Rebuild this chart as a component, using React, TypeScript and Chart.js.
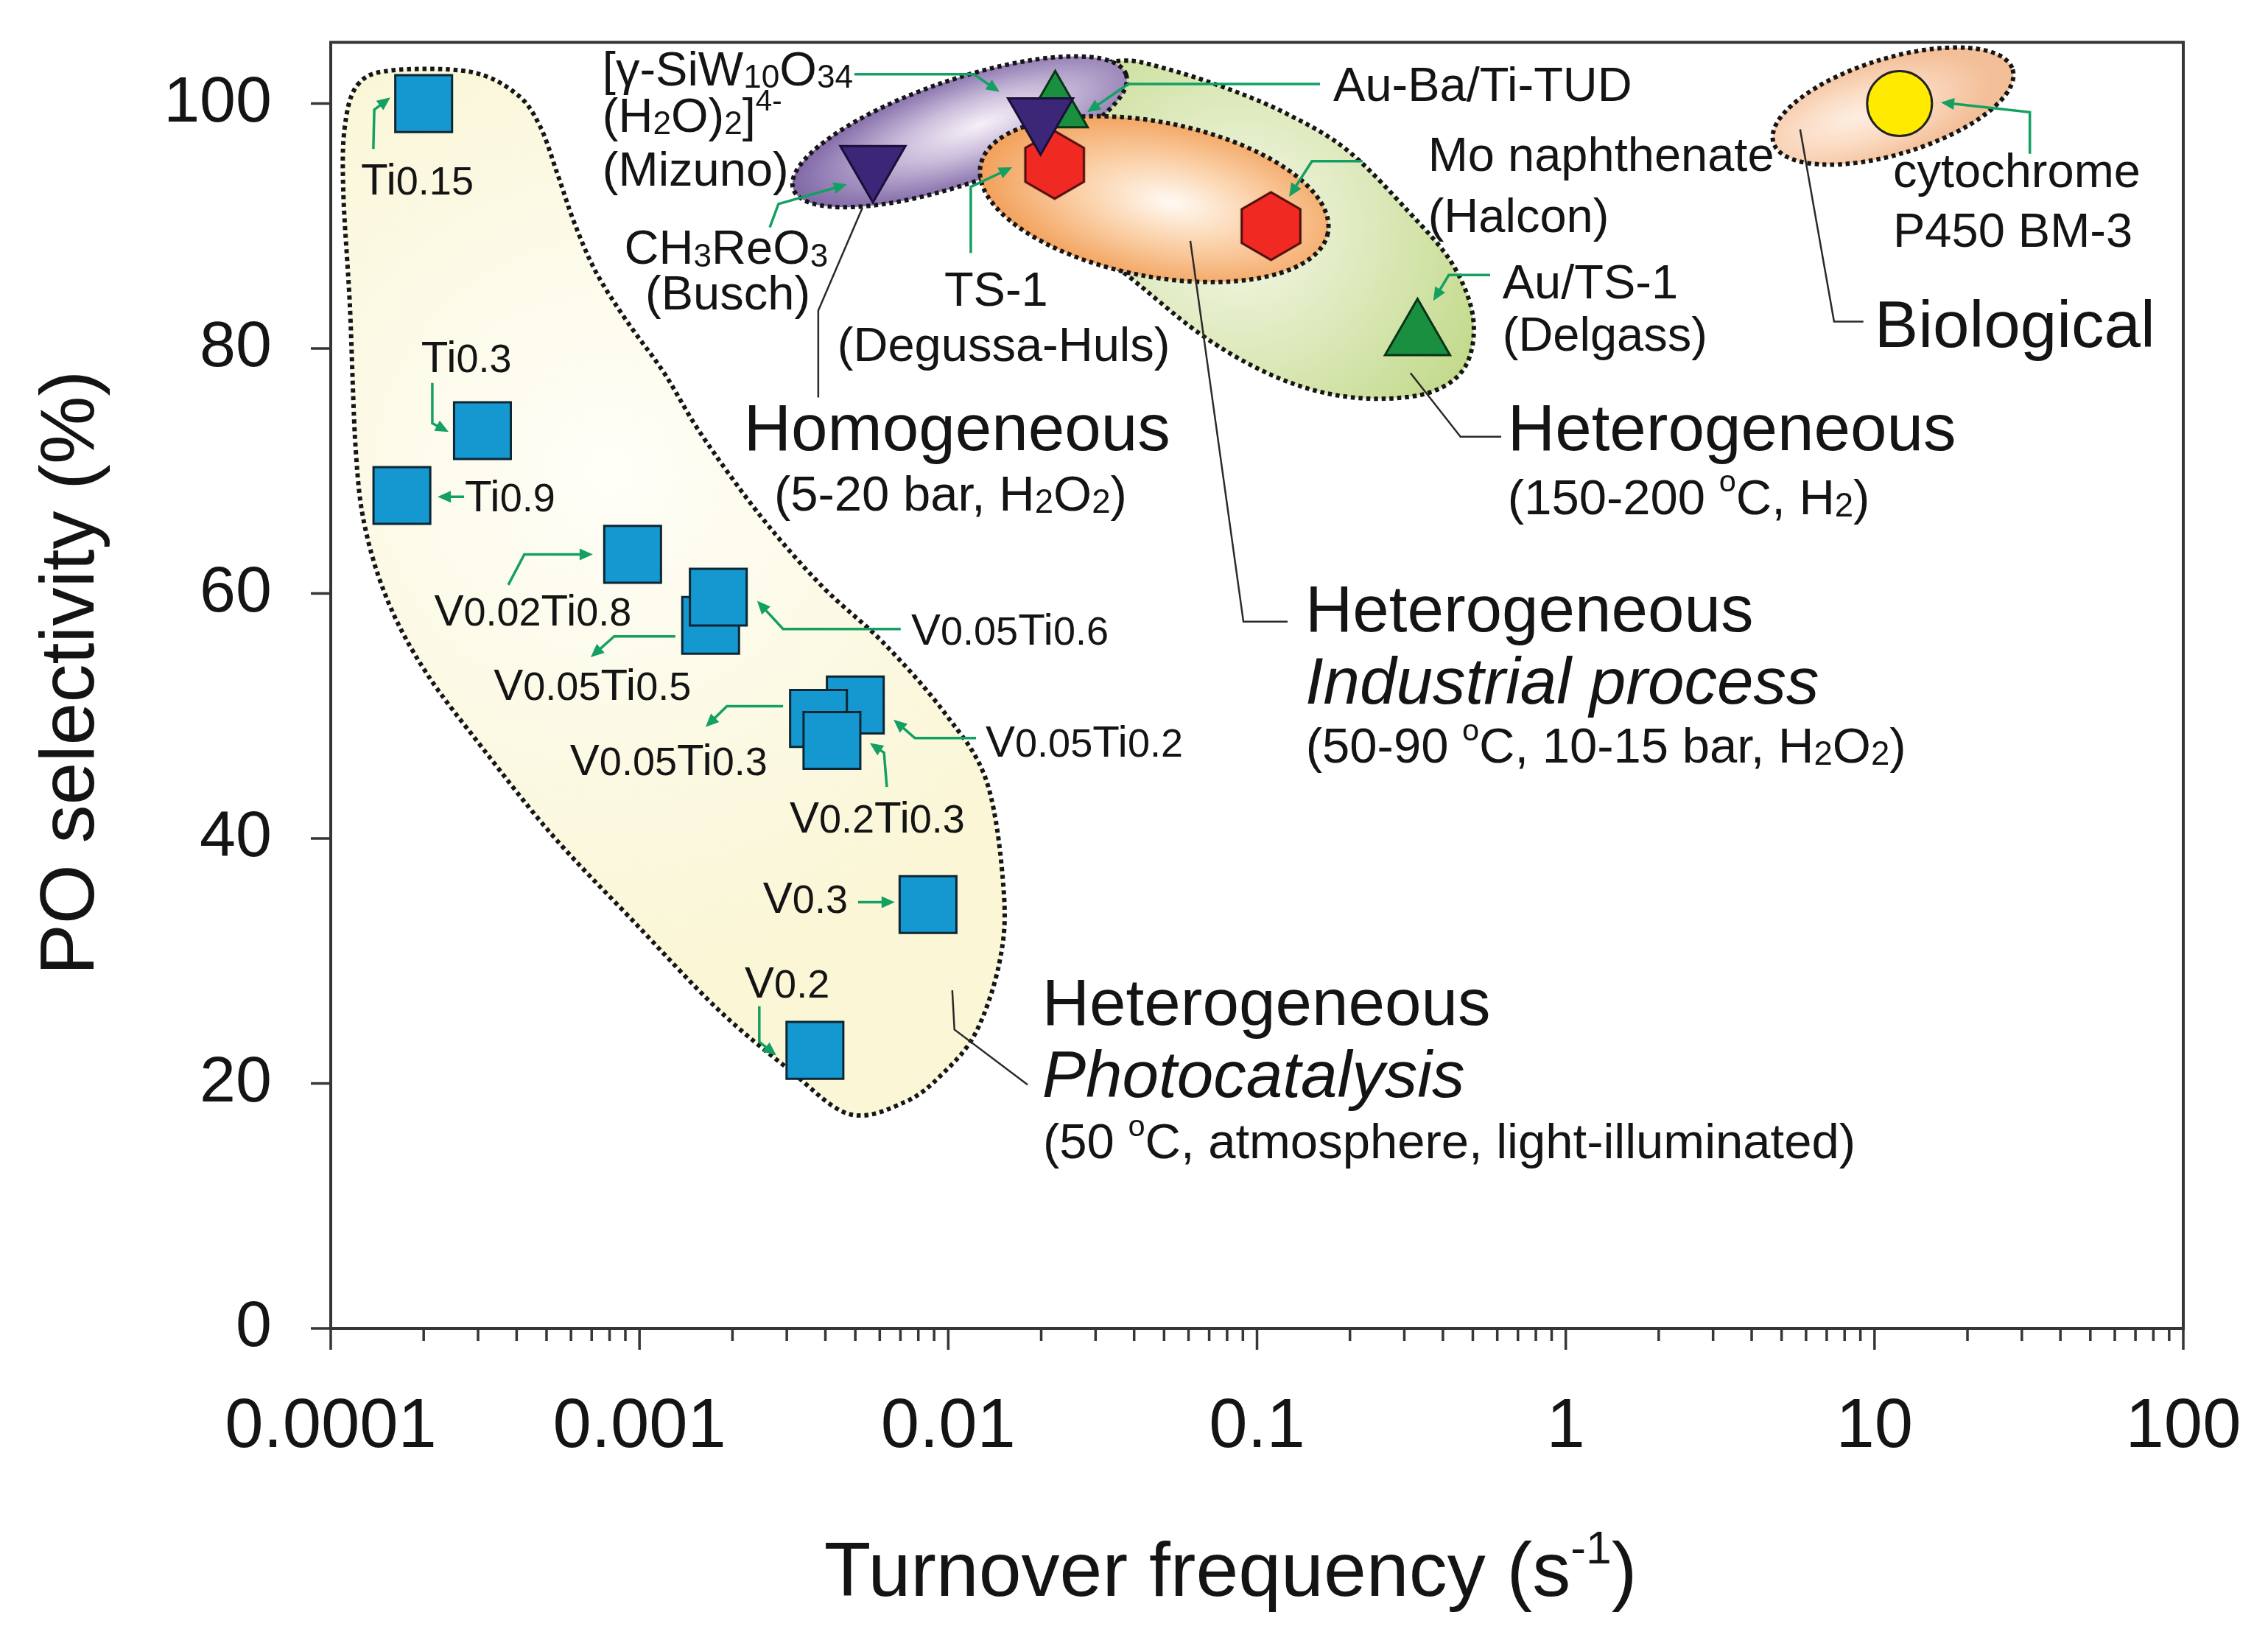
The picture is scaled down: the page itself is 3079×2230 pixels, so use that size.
import React, { useEffect, useRef } from 'react';
import { Chart, registerables } from 'chart.js';

Chart.register(...registerables);

const FONT = "'Liberation Sans', Arial, Helvetica, sans-serif";

// ---------------- data ----------------
// Heterogeneous photocatalysis (VxTiy samples)
const PHOTO_NAMES = ['Ti0.15', 'Ti0.3', 'Ti0.9', 'V0.02Ti0.8', 'V0.05Ti0.5', 'V0.05Ti0.6', 'V0.05Ti0.2', 'V0.05Ti0.3', 'V0.2Ti0.3', 'V0.3', 'V0.2'];
const PHOTO_TOF = [2.0e-4, 3.1e-4, 1.7e-4, 9.5e-4, 1.7e-3, 1.8e-3, 5.0e-3, 3.8e-3, 4.2e-3, 8.6e-3, 3.7e-3];
const PHOTO_SEL = [100, 73.3, 68.0, 63.2, 57.4, 59.7, 50.9, 49.8, 48.0, 34.6, 22.7];

// Homogeneous (5-20 bar, H2O2)
const HOMO_NAMES = ['CH3ReO3 (Busch)', '[γ-SiW10O34(H2O)2]4- (Mizuno)'];
const HOMO_TOF = [5.7e-3, 0.0199];
const HOMO_SEL = [95.0, 98.9];

// Heterogeneous industrial process
const IND_NAMES = ['TS-1 (Degussa-Huls)', 'Mo naphthenate (Halcon)'];
const IND_TOF = [0.0221, 0.111];
const IND_SEL = [95.0, 90.0];

// Heterogeneous gas phase (150-200 °C, H2)
const GAS_NAMES = ['Au-Ba/Ti-TUD', 'Au/TS-1 (Delgass)'];
const GAS_TOF = [0.0222, 0.331];
const GAS_SEL = [99.6, 81.0];

// Biological
const BIO_NAMES = ['cytochrome P450 BM-3'];
const BIO_TOF = [12.05];
const BIO_SEL = [100.0];

// axes
const X_MIN = 1e-4;
const X_MAX = 100;
const Y_MIN = 0;
const Y_MAX = 105;
const X_TICKS = [1e-4, 1e-3, 1e-2, 1e-1, 1, 10, 100];
const X_TICK_LABELS = ['0.0001', '0.001', '0.01', '0.1', '1', '10', '100'];
const X_MINOR_MANTISSAS = [1, 2, 3, 4, 5, 6, 7, 8, 9];
const Y_TICKS = [0, 20, 40, 60, 80, 100];

// ---------------- annotations (data space: [log10(TOF), selectivity]) ----------------
type Seg = { t: string; s?: number; dy?: number };
const sub = (t: string): Seg => ({ t, s: 0.68, dy: 0.05 });
const sup = (t: string): Seg => ({ t, s: 0.62, dy: -0.45 });
const nrm = (t: string): Seg => ({ t });

const PHOTO_LABEL_AT: [number, number][] = [
  [-3.902, 92.6], [-3.707, 78.1], [-3.566, 66.7], [-3.665, 57.4], [-3.472, 51.3], [-2.120, 55.8],
  [-1.879, 46.7], [-3.225, 45.2], [-2.514, 40.5], [-2.600, 33.9], [-2.659, 27.0],
];
const PHOTO_ARROWS: [number, number][][] = [
  [[-3.862, 96.3], [-3.859, 99.5], [-3.807, 100.5]],
  [[-3.671, 77.2], [-3.671, 73.9], [-3.618, 73.2]],
  [[-3.568, 67.9], [-3.654, 67.9]],
  [[-3.425, 60.7], [-3.373, 63.2], [-3.151, 63.2]],
  [[-2.884, 56.5], [-3.082, 56.5], [-3.158, 54.8]],
  [[-2.154, 57.1], [-2.535, 57.1], [-2.619, 59.4]],
  [[-1.910, 48.2], [-2.108, 48.2], [-2.177, 49.7]],
  [[-2.535, 50.8], [-2.717, 50.8], [-2.786, 49.1]],
  [[-2.199, 44.2], [-2.208, 47.0], [-2.254, 47.8]],
  [[-2.292, 34.8], [-2.173, 34.8]],
  [[-2.612, 26.3], [-2.612, 23.4], [-2.557, 22.3]],
];
const OTHER_ARROWS: [number, number][][] = [
  [[-2.304, 102.4], [-1.917, 102.4], [-1.834, 100.95]],
  [[-0.796, 101.6], [-1.417, 101.6], [-1.550, 99.3]],
  [[-2.578, 89.9], [-2.550, 91.8], [-2.328, 93.4]],
  [[-1.927, 87.8], [-1.927, 93.2], [-1.793, 94.8]],
  [[-0.658, 95.3], [-0.822, 95.3], [-0.896, 92.4]],
  [[-0.245, 86.0], [-0.379, 86.0], [-0.429, 83.9]],
  [[1.503, 95.9], [1.503, 99.3], [1.215, 100.1]],
];
const LEADERS: [number, number][][] = [
  [[-2.278, 91.5], [-2.421, 83.1], [-2.421, 76.0]],
  [[-1.216, 88.8], [-1.044, 57.7], [-0.901, 57.7]],
  [[-0.503, 78.0], [-0.341, 72.8], [-0.209, 72.8]],
  [[0.759, 97.9], [0.869, 82.2], [0.964, 82.2]],
  [[-1.987, 27.6], [-1.980, 24.4], [-1.743, 19.9]],
];
type TextItem = { at: [number, number]; segs: Seg[]; kind: 'm' | 'c' | 'h'; align?: 'left' | 'center'; italic?: boolean };
const TEXTS: TextItem[] = [
  { at: [-3.120, 101.5], kind: 'm', segs: [nrm('[γ-SiW'), sub('10'), nrm('O'), sub('34')] },
  { at: [-3.120, 97.7], kind: 'm', segs: [nrm('(H'), sub('2'), nrm('O)'), sub('2'), nrm(']'), sup('4-')] },
  { at: [-3.120, 93.3], kind: 'm', segs: [nrm('(Mizuno)')] },
  { at: [-2.719, 86.9], kind: 'm', align: 'center', segs: [nrm('CH'), sub('3'), nrm('ReO'), sub('3')] },
  { at: [-2.714, 83.2], kind: 'm', align: 'center', segs: [nrm('(Busch)')] },
  { at: [-2.013, 83.5], kind: 'm', segs: [nrm('TS-1')] },
  { at: [-2.359, 79.0], kind: 'm', segs: [nrm('(Degussa-Huls)')] },
  { at: [-0.753, 100.2], kind: 'm', segs: [nrm('Au-Ba/Ti-TUD')] },
  { at: [-0.446, 94.5], kind: 'm', segs: [nrm('Mo naphthenate')] },
  { at: [-0.446, 89.5], kind: 'm', segs: [nrm('(Halcon)')] },
  { at: [-0.205, 84.1], kind: 'm', segs: [nrm('Au/TS-1')] },
  { at: [-0.205, 79.8], kind: 'm', segs: [nrm('(Delgass)')] },
  { at: [1.060, 93.2], kind: 'm', segs: [nrm('cytochrome')] },
  { at: [1.060, 88.3], kind: 'm', segs: [nrm('P450 BM-3')] },
  { at: [-2.564, 66.8], kind: 'c', segs: [nrm('(5-20 bar, H'), sub('2'), nrm('O'), sub('2'), nrm(')')] },
  { at: [-0.188, 66.5], kind: 'c', segs: [nrm('(150-200 '), sup('o'), nrm('C, H'), sub('2'), nrm(')')] },
  { at: [-0.842, 46.2], kind: 'c', segs: [nrm('(50-90 '), sup('o'), nrm('C, 10-15 bar, H'), sub('2'), nrm('O'), sub('2'), nrm(')')] },
  { at: [-1.693, 13.9], kind: 'c', segs: [nrm('(50 '), sup('o'), nrm('C, atmosphere, light-illuminated)')] },
  { at: [-2.662, 71.7], kind: 'h', segs: [nrm('Homogeneous')] },
  { at: [-0.188, 71.7], kind: 'h', segs: [nrm('Heterogeneous')] },
  { at: [1.000, 80.1], kind: 'h', segs: [nrm('Biological')] },
  { at: [-0.844, 56.9], kind: 'h', segs: [nrm('Heterogeneous')] },
  { at: [-0.844, 51.0], kind: 'h', italic: true, segs: [nrm('Industrial process')] },
  { at: [-1.696, 24.8], kind: 'h', segs: [nrm('Heterogeneous')] },
  { at: [-1.696, 18.9], kind: 'h', italic: true, segs: [nrm('Photocatalysis')] },
];

// regions
const PHOTO_REGION: [number, number][] = [
  [-3.914, 101.5], [-3.807, 102.7], [-3.549, 102.6], [-3.399, 100.8], [-3.323, 98.2], [-3.265, 94.2],
  [-3.210, 90.2], [-3.140, 86.2], [-3.040, 82.2], [-2.920, 78.0], [-2.800, 73.0], [-2.607, 66.3],
  [-2.409, 60.6], [-2.211, 56.0], [-2.013, 50.3], [-1.875, 44.6], [-1.820, 35.6], [-1.834, 29.9],
  [-1.910, 24.2], [-2.018, 20.8], [-2.139, 18.5], [-2.321, 17.5], [-2.519, 21.2], [-2.748, 26.1],
  [-3.022, 33.3], [-3.280, 40.2], [-3.509, 47.4], [-3.690, 53.5], [-3.812, 59.2], [-3.888, 65.3],
  [-3.919, 71.7], [-3.938, 83.5], [-3.959, 92.6], [-3.955, 98.0],
];
const GAS_REGION: [number, number][] = [
  [-1.731, 98.6], [-1.588, 102.4], [-1.440, 103.5], [-1.302, 102.9], [-1.104, 101.3], [-0.906, 99.2],
  [-0.708, 96.2], [-0.510, 91.2], [-0.367, 86.9], [-0.300, 82.5], [-0.324, 78.6], [-0.431, 76.5],
  [-0.610, 75.9], [-0.801, 76.5], [-0.992, 78.3], [-1.190, 81.3], [-1.421, 86.0], [-1.610, 89.6],
  [-1.719, 93.8],
];
const HOMO_REGION = { c: [-1.963, 97.7], a: 0.57, b: 0.168, rot: -19, hx: 0.12 };
const IND_REGION = { c: [-1.333, 92.2], a: 0.573, b: 0.250, rot: 11, hx: 0.1 };
const BIO_REGION = { c: [1.060, 99.8], a: 0.405, b: 0.155, rot: -17, hx: -0.3 };

// ---------------- styles ----------------
const TEXT_COLOR = '#141414';
const ARROW_COLOR = '#13a062';
const SIZE = { m: 65, c: 67, h: 89, s: 60 };

// ---------------- helpers ----------------
function P(chart: any, lx: number, y: number): [number, number] {
  return [chart.scales.x.getPixelForValue(Math.pow(10, lx)), chart.scales.y.getPixelForValue(y)];
}
function decPx(chart: any) {
  return chart.scales.x.getPixelForValue(10) - chart.scales.x.getPixelForValue(1);
}
function drawRich(ctx: CanvasRenderingContext2D, segs: Seg[], x: number, y: number, size: number, align: string, italic = false) {
  const f = (sz: number) => `${italic ? 'italic ' : ''}${sz}px ${FONT}`;
  let w = 0;
  for (const g of segs) { ctx.font = f(size * (g.s ?? 1)); w += ctx.measureText(g.t).width; }
  let cx = align === 'center' ? x - w / 2 : align === 'right' ? x - w : x;
  ctx.textAlign = 'left';
  ctx.textBaseline = 'alphabetic';
  for (const g of segs) {
    ctx.font = f(size * (g.s ?? 1));
    ctx.fillText(g.t, cx, y + (g.dy ?? 0) * size);
    cx += ctx.measureText(g.t).width;
  }
}
function photoSegs(name: string): Seg[] {
  return name.split(/(\d[\d.]*)/).filter(Boolean).map(t => (/\d/.test(t) ? { t, s: 0.9 } : { t }));
}
function smoothClosed(ctx: CanvasRenderingContext2D, pts: [number, number][]) {
  const n = pts.length;
  ctx.moveTo(pts[0][0], pts[0][1]);
  for (let i = 0; i < n; i++) {
    const p0 = pts[(i - 1 + n) % n], p1 = pts[i], p2 = pts[(i + 1) % n], p3 = pts[(i + 2) % n];
    ctx.bezierCurveTo(
      p1[0] + (p2[0] - p0[0]) / 6, p1[1] + (p2[1] - p0[1]) / 6,
      p2[0] - (p3[0] - p1[0]) / 6, p2[1] - (p3[1] - p1[1]) / 6,
      p2[0], p2[1]);
  }
  ctx.closePath();
}
function dotted(ctx: CanvasRenderingContext2D) {
  ctx.setLineDash([5.5, 5]);
  ctx.lineWidth = 6;
  ctx.lineCap = 'butt';
  ctx.strokeStyle = '#161616';
  ctx.stroke();
  ctx.setLineDash([]);
}
function drawBlob(chart: any, region: [number, number][], hl: [number, number], r: number, inner: string, outer: string) {
  const ctx = chart.ctx as CanvasRenderingContext2D;
  const pts = region.map(p => P(chart, p[0], p[1]));
  const [hx, hy] = P(chart, hl[0], hl[1]);
  const rad = r * decPx(chart);
  const g = ctx.createRadialGradient(hx, hy, 0, hx, hy, rad);
  g.addColorStop(0, inner);
  g.addColorStop(1, outer);
  ctx.save();
  ctx.beginPath();
  smoothClosed(ctx, pts);
  ctx.fillStyle = g;
  ctx.fill();
  dotted(ctx);
  ctx.restore();
}
function drawEllipse(chart: any, e: any, inner: string, mid: string, outer: string) {
  const ctx = chart.ctx as CanvasRenderingContext2D;
  const [cx, cy] = P(chart, e.c[0], e.c[1]);
  const d = decPx(chart);
  const a = e.a * d, b = e.b * d, r = (e.rot * Math.PI) / 180;
  ctx.save();
  ctx.translate(cx, cy);
  ctx.rotate(r);
  ctx.scale(1, b / a);
  const g = ctx.createRadialGradient(e.hx * a, 0, 0, e.hx * a, 0, a * 1.1);
  g.addColorStop(0, inner);
  g.addColorStop(0.45, mid);
  g.addColorStop(1, outer);
  ctx.beginPath();
  ctx.arc(0, 0, a, 0, Math.PI * 2);
  ctx.fillStyle = g;
  ctx.fill();
  ctx.restore();
  ctx.save();
  ctx.beginPath();
  ctx.ellipse(cx, cy, a, b, r, 0, Math.PI * 2);
  dotted(ctx);
  ctx.restore();
}
function polyline(ctx: CanvasRenderingContext2D, pts: [number, number][]) {
  ctx.beginPath();
  ctx.moveTo(pts[0][0], pts[0][1]);
  for (let i = 1; i < pts.length; i++) ctx.lineTo(pts[i][0], pts[i][1]);
  ctx.stroke();
}
function arrow(ctx: CanvasRenderingContext2D, pts: [number, number][]) {
  const [x1, y1] = pts[pts.length - 2];
  const [x2, y2] = pts[pts.length - 1];
  const ang = Math.atan2(y2 - y1, x2 - x1);
  const L = 18, W = 8;
  const c = Math.cos(ang), s = Math.sin(ang);
  const line = pts.slice(0, -1).concat([[x2 - c * L * 0.8, y2 - s * L * 0.8]]) as [number, number][];
  polyline(ctx, line);
  ctx.beginPath();
  ctx.moveTo(x2, y2);
  ctx.lineTo(x2 - L * c + W * s, y2 - L * s - W * c);
  ctx.lineTo(x2 - L * c - W * s, y2 - L * s + W * c);
  ctx.closePath();
  ctx.fill();
}
function makeHexagon(fill: string, stroke: string, R: number, lw: number) {
  const c = document.createElement('canvas');
  const w = Math.ceil(Math.sqrt(3) * R + lw * 2 + 2);
  const h = Math.ceil(2 * R + lw * 2 + 2);
  c.width = w; c.height = h;
  const ctx = c.getContext('2d')!;
  ctx.translate(w / 2, h / 2);
  ctx.beginPath();
  for (let i = 0; i < 6; i++) {
    const a = (-90 + 60 * i) * Math.PI / 180;
    const x = R * Math.cos(a), y = R * Math.sin(a);
    if (i === 0) ctx.moveTo(x, y); else ctx.lineTo(x, y);
  }
  ctx.closePath();
  ctx.fillStyle = fill;
  ctx.fill();
  ctx.lineWidth = lw;
  ctx.lineJoin = 'miter';
  ctx.strokeStyle = stroke;
  ctx.stroke();
  return c;
}

const annotationPlugin = {
  id: 'annotations',
  beforeDatasetsDraw(chart: any) {
    const ctx = chart.ctx as CanvasRenderingContext2D;
    const ca = chart.chartArea;
    ctx.save();
    ctx.beginPath();
    ctx.rect(ca.left, ca.top, ca.right - ca.left, ca.bottom - ca.top);
    ctx.clip();
    drawBlob(chart, PHOTO_REGION, [-3.1, 70], 1.6, '#fffef8', '#faf6d6');
    drawBlob(chart, GAS_REGION, [-1.05, 90], 0.85, '#f6f8ea', '#c3da8c');
    drawEllipse(chart, HOMO_REGION, '#f6f1f8', '#c9bbda', '#826aa8');
    drawEllipse(chart, IND_REGION, '#fffaf4', '#fbd3ac', '#f2a05a');
    drawEllipse(chart, BIO_REGION, '#fdeee2', '#fbdcc4', '#f3bf98');
    ctx.restore();
  },
  afterDatasetsDraw(chart: any) {
    const ctx = chart.ctx as CanvasRenderingContext2D;
    ctx.save();
    // leader lines
    ctx.strokeStyle = '#2a2a2a';
    ctx.lineWidth = 2.5;
    ctx.lineJoin = 'miter';
    for (const l of LEADERS) polyline(ctx, l.map(p => P(chart, p[0], p[1])));
    // green arrows
    ctx.strokeStyle = ARROW_COLOR;
    ctx.fillStyle = ARROW_COLOR;
    ctx.lineWidth = 3.5;
    for (const a of PHOTO_ARROWS) arrow(ctx, a.map(p => P(chart, p[0], p[1])));
    for (const a of OTHER_ARROWS) arrow(ctx, a.map(p => P(chart, p[0], p[1])));
    // labels
    ctx.fillStyle = TEXT_COLOR;
    PHOTO_NAMES.forEach((name, i) => {
      const [x, y] = P(chart, PHOTO_LABEL_AT[i][0], PHOTO_LABEL_AT[i][1]);
      drawRich(ctx, photoSegs(name), x, y, SIZE.s, 'left');
    });
    for (const t of TEXTS) {
      const [x, y] = P(chart, t.at[0], t.at[1]);
      drawRich(ctx, t.segs, x, y, SIZE[t.kind], t.align ?? 'left', !!t.italic);
    }
    ctx.restore();
  },
  afterDraw(chart: any) {
    const ctx = chart.ctx as CanvasRenderingContext2D;
    const ca = chart.chartArea;
    const xs = chart.scales.x, ys = chart.scales.y;
    ctx.save();
    ctx.strokeStyle = '#363636';
    ctx.lineWidth = 4;
    ctx.strokeRect(ca.left, ca.top, ca.right - ca.left, ca.bottom - ca.top);
    ctx.lineWidth = 3.5;
    ctx.beginPath();
    for (const t of xs.ticks) {
      const x = xs.getPixelForValue(t.value);
      ctx.moveTo(x, ca.bottom);
      ctx.lineTo(x, ca.bottom + (t.major ? 29 : 17));
    }
    for (const t of ys.ticks) {
      const y = ys.getPixelForValue(t.value);
      ctx.moveTo(ca.left - 27, y);
      ctx.lineTo(ca.left, y);
    }
    ctx.stroke();
    // axis titles
    ctx.fillStyle = TEXT_COLOR;
    drawRich(ctx, [nrm('Turnover frequency (s'), { t: '-1', s: 0.6, dy: -0.42 }, nrm(')')],
      (ca.left + ca.right) / 2 - 36, ca.bottom + 363, 104, 'center');
    ctx.translate(ca.left - 351, (ca.top + ca.bottom) / 2 - 17);
    ctx.rotate(-Math.PI / 2);
    ctx.font = `104px ${FONT}`;
    ctx.textAlign = 'center';
    ctx.textBaseline = 'middle';
    ctx.fillText('PO selectivity (%)', 0, 0);
    ctx.restore();
  },
};

function pts(xs: number[], ys: number[]) {
  return xs.map((x, i) => ({ x, y: ys[i] }));
}

export default function App() {
  const ref = useRef<HTMLCanvasElement>(null);
  useEffect(() => {
    document.body.style.margin = '0';
    const canvas = ref.current!;
    const hex = makeHexagon('#f02a22', '#4a0c0a', 46, 3);
    const chart = new Chart(canvas, {
      type: 'scatter',
      data: {
        datasets: [
          {
            label: 'Heterogeneous photocatalysis', data: pts(PHOTO_TOF, PHOTO_SEL),
            pointStyle: 'rect', pointRadius: 54.5, backgroundColor: '#1597cf', borderColor: '#0c2633', borderWidth: 3,
          },
          {
            label: 'Homogeneous', data: pts(HOMO_TOF, HOMO_SEL),
            pointStyle: 'triangle', rotation: 180, pointRadius: 51, backgroundColor: '#3b2678', borderColor: '#1a0f38', borderWidth: 3,
          },
          {
            label: 'Heterogeneous industrial', data: pts(IND_TOF, IND_SEL),
            pointStyle: hex as any, pointRadius: 46, backgroundColor: '#f02a22', borderColor: '#4a0c0a', borderWidth: 3,
          },
          {
            label: 'Heterogeneous (H2)', data: pts(GAS_TOF, GAS_SEL),
            pointStyle: 'triangle', pointRadius: 51, backgroundColor: '#1a8f3f', borderColor: '#0a3317', borderWidth: 3,
          },
          {
            label: 'Biological', data: pts(BIO_TOF, BIO_SEL),
            pointStyle: 'circle', pointRadius: 44, backgroundColor: '#ffea00', borderColor: '#222222', borderWidth: 3,
          },
        ],
      },
      options: {
        responsive: false,
        animation: false,
        events: [],
        layout: { padding: { left: 0, right: 115, top: 41, bottom: 0 } },
        plugins: { legend: { display: false }, tooltip: { enabled: false }, title: { display: false } },
        scales: {
          x: {
            type: 'logarithmic',
            min: X_MIN,
            max: X_MAX,
            grid: { display: false, drawTicks: false },
            border: { display: false },
            ticks: {
              autoSkip: false, maxRotation: 0, minRotation: 0, padding: 79, color: TEXT_COLOR,
              font: { size: 94, family: FONT },
              callback: (v: any) => {
                const i = X_TICKS.findIndex(t => Math.abs(Math.log10(t) - Math.log10(Number(v))) < 1e-6);
                return i >= 0 ? X_TICK_LABELS[i] : '';
              },
            },
            afterBuildTicks: (s: any) => {
              const ticks: any[] = [];
              for (let e = Math.log10(X_MIN); e < Math.log10(X_MAX); e++) {
                for (const m of X_MINOR_MANTISSAS) ticks.push({ value: m * Math.pow(10, e), major: m === 1 });
              }
              ticks.push({ value: X_MAX, major: true });
              s.ticks = ticks;
            },
            afterFit: (s: any) => {
              s.height = 427;
              s.paddingLeft = 0; s.paddingRight = 0; s.paddingTop = 0; s.paddingBottom = 0;
            },
          },
          y: {
            min: Y_MIN,
            max: Y_MAX,
            grid: { display: false, drawTicks: false },
            border: { display: false },
            ticks: { padding: 80, color: TEXT_COLOR, font: { size: 88, family: FONT } },
            afterBuildTicks: (s: any) => {
              s.ticks = Y_TICKS.map(v => ({ value: v }));
            },
            afterFit: (s: any) => {
              s.width = 449;
              s.paddingLeft = 0; s.paddingRight = 0; s.paddingTop = 0; s.paddingBottom = 0;
            },
          },
        },
      },
      plugins: [annotationPlugin],
    } as any);
    return () => chart.destroy();
  }, []);
  return (
    <div style={{ position: 'fixed', left: 0, top: 0, width: 3079, height: 2230, background: '#fff', overflow: 'hidden' }}>
      <canvas ref={ref} width={3079} height={2230} style={{ width: 3079, height: 2230, display: 'block' }} />
    </div>
  );
}
